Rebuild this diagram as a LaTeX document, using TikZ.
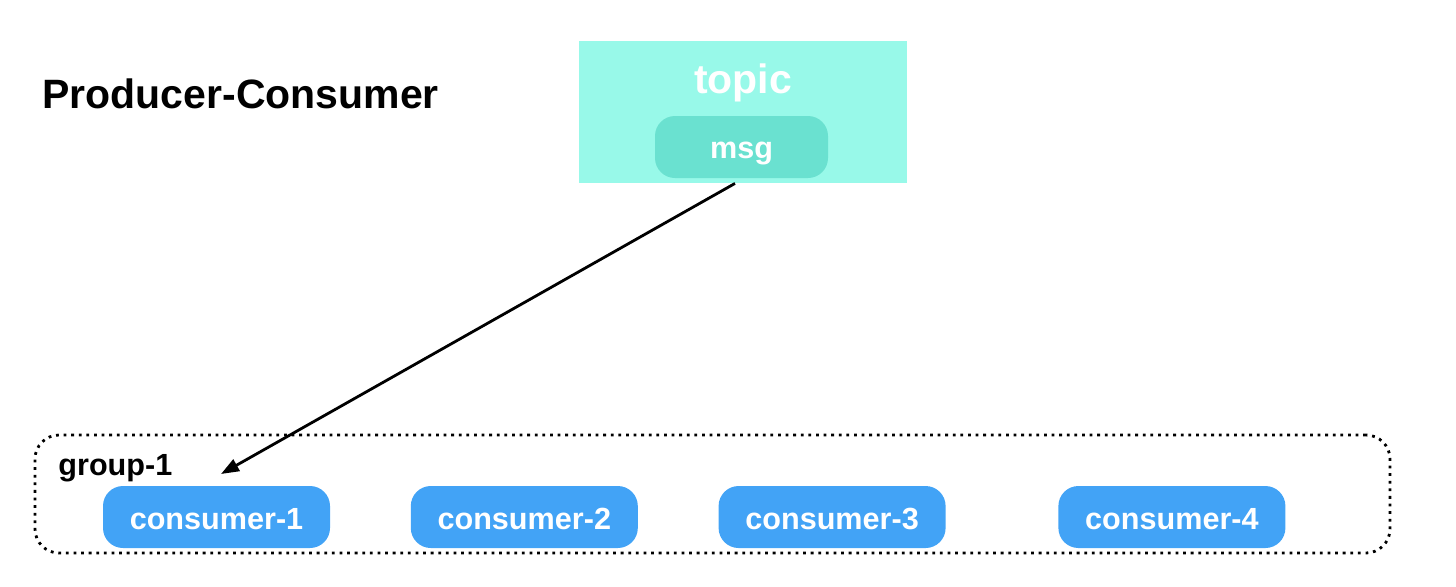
\documentclass[tikz,border=0pt]{standalone}
\usepackage{fontspec}
\setmainfont{Liberation Sans}
\usetikzlibrary{positioning}
\usetikzlibrary{arrows.meta}
\definecolor{topicfill}{HTML}{98F9E9}
\definecolor{msgfill}{HTML}{6AE1D0}
\definecolor{consfill}{HTML}{42A3F6}
\newcommand{\smallbold}{\bfseries\fontsize{15.3}{18}\selectfont}
\newcommand{\bigbold}{\bfseries\fontsize{20.5}{24}\selectfont}
\tikzset{
    heading/.style = {inner sep=0pt, font=\bigbold},
    topicbox/.style = {rectangle, fill=topicfill, minimum width=164pt, minimum height=71pt},
    msgbox/.style = {rectangle, rounded corners=10pt, fill=msgfill, inner sep=0pt,
        minimum width=86.5pt, minimum height=31pt, text=white, font=\smallbold,
        text height=11pt, text depth=0pt},
    consumer/.style = {rectangle, rounded corners=10pt, fill=consfill, inner sep=0pt,
        minimum width=113.5pt, minimum height=31pt, text=white, font=\smallbold,
        text height=12pt, text depth=0pt},
    groupbox/.style = {rectangle, draw, rounded corners=12pt, line width=1.4pt,
        dash pattern=on 1.4pt off 2.4pt, minimum width=677.5pt, minimum height=59pt},
    sendarrow/.style = {-{Triangle[length=9pt,width=6.5pt]}, line width=1.4pt}}

\begin{document}
\begin{tikzpicture}[x=0.5pt,y=-0.5pt]
        \useasboundingbox (0,0) rectangle (1456,586);
        \path (42,108) node[heading,anchor=base west] (title) {Producer-Consumer}
        (743,112) node[topicbox] (topic) {}
        + (0,-19) node[heading,anchor=base,text=white] (topiclabel) {topic}
        + (-1.5,35) node[msgbox] (msg) {msg}
        (712.5,494) node[groupbox] (group) {}
        (58,475) node[heading,anchor=base west,font=\smallbold] (grouplabel) {group-1}
        (216.5,517) node[consumer] (c1) {consumer-1};
        \node[consumer,right=40pt of c1] (c2) {consumer-2};
        \node[consumer,right=40pt of c2] (c3) {consumer-3};
        \node[consumer,right=56pt of c3] (c4) {consumer-4};
        \coordinate (tip) at (221,474);
        \draw[sendarrow] ([xshift=-4pt]topic.south) -- (tip);
\end{tikzpicture}
\end{document}
